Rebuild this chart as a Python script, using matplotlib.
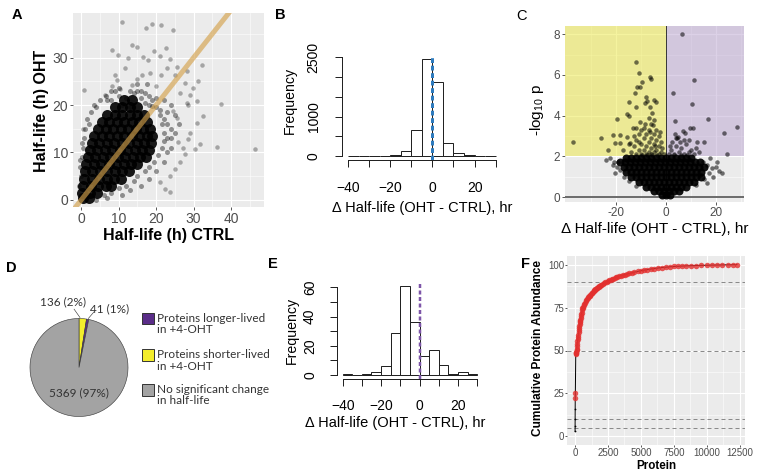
import numpy as np
import matplotlib
matplotlib.use('Agg')
import matplotlib.pyplot as plt
from matplotlib.patches import Rectangle
from matplotlib.lines import Line2D

# ---------------- data ----------------
# Panel A: half-life CTRL (x) vs OHT (y); dense core, fringe and outliers
a_core = [(0.5, 0.5), (2.0, 0.5),
          (0.3, 1.5), (2.3, 1.5), (4.3, 1.5),
          (0.5, 3.0), (2.5, 3.0), (4.5, 3.0), (6.5, 3.0), (8.0, 3.0),
          (0.8, 4.5), (2.8, 4.5), (4.8, 4.5), (6.8, 4.5), (8.8, 4.5), (10.5, 4.5),
          (1.0, 6.0), (3.0, 6.0), (5.0, 6.0), (7.0, 6.0), (9.0, 6.0), (11.0, 6.0), (12.8, 6.0),
          (1.3, 7.5), (3.3, 7.5), (5.3, 7.5), (7.3, 7.5), (9.3, 7.5), (11.3, 7.5), (13.3, 7.5), (15.0, 7.5),
          (1.8, 9.0), (3.8, 9.0), (5.8, 9.0), (7.8, 9.0), (9.8, 9.0), (11.8, 9.0), (13.8, 9.0), (15.8, 9.0), (17.3, 9.0),
          (2.3, 10.5), (4.3, 10.5), (6.3, 10.5), (8.3, 10.5), (10.3, 10.5), (12.3, 10.5), (14.3, 10.5), (16.3, 10.5), (18.0, 10.5),
          (2.8, 12.0), (4.8, 12.0), (6.8, 12.0), (8.8, 12.0), (10.8, 12.0), (12.8, 12.0), (14.8, 12.0), (16.8, 12.0), (18.5, 12.0),
          (3.5, 13.5), (5.5, 13.5), (7.5, 13.5), (9.5, 13.5), (11.5, 13.5), (13.5, 13.5), (15.5, 13.5), (17.5, 13.5), (19.0, 13.5),
          (4.5, 15.0), (6.5, 15.0), (8.5, 15.0), (10.5, 15.0), (12.5, 15.0), (14.5, 15.0), (16.5, 15.0), (18.3, 15.0),
          (5.5, 16.5), (7.5, 16.5), (9.5, 16.5), (11.5, 16.5), (13.5, 16.5), (15.5, 16.5), (17.5, 16.5),
          (7.0, 18.0), (9.0, 18.0), (11.0, 18.0), (13.0, 18.0), (15.0, 18.0), (16.8, 18.0),
          (9.0, 19.5), (11.0, 19.5), (13.0, 19.5), (15.0, 19.5),
          (11.5, 21.0), (13.5, 21.0)]
a_fringe = [(0, 1), (-0.5, 3), (0, 5), (-0.3, 7), (0.2, 9), (0.5, 11), (0.8, 13), (1, 15), (1.5, 17),
            (2.5, 18.5), (3.5, 20), (5, 21), (6.5, 22), (8, 23), (10, 23.5), (13, 23), (4, 19.5), (2, 16),
            (0.3, 12), (-0.2, 8.5), (4, 0), (6, 1), (8, 1.5), (10, 2.5), (12, 3), (14, 4), (15, 5), (17, 6),
            (18, 7), (19.5, 8), (20.5, 9.5), (21.5, 11), (22, 12.5), (22, 14), (21.5, 16), (21, 18), (20, 19.5),
            (19, 21), (17, 22.5), (15, 23), (23, 10), (22, 8), (24, 13), (20, 6), (18, 4.5), (13, 2), (16, 3),
            (11, 1), (7, 0.5), (23, 16), (24, 11), (25, 14), (22, 17), (18, 20), (16, 21.5),
            (8, 21), (10, 22), (12, 21.5), (14, 22.5), (16, 23), (18, 22), (20, 21.5), (22, 21), (24, 20),
            (11, 20), (13, 19.5), (17, 20.5), (19, 19.8), (21, 19), (23, 18.5), (25, 18), (26, 16), (24, 15),
            (23, 13), (9, 23), (7, 21), (15, 24.5), (17.5, 24.5)]
a_out = [(10.8, 37.6), (17.3, 36.2), (18.9, 37.0), (21.2, 36.8), (24.4, 35.8), (13.5, 32.7), (14.8, 32.2),
         (8.2, 31.5), (9.8, 30.6), (12.4, 30.0), (16.4, 30.1), (17.9, 29.4), (19.5, 31.4), (22.6, 32.1),
         (20.9, 30.3), (23.7, 29.6), (25.5, 28.0), (32.2, 28.5), (28.2, 27.1), (25.1, 26.4), (22.8, 27.8),
         (11.7, 27.8), (9.1, 26.3), (9.5, 25.2), (14.8, 25.4), (16.2, 26.4), (18.4, 26.8), (20.0, 24.0),
         (21.2, 26.4), (31.3, 25.0), (27.7, 24.7), (26.4, 22.6), (29.1, 22.2), (29.9, 23.6), (0.8, 23.1),
         (37.3, 20.3), (30.8, 20.8), (28.6, 20.1), (6.4, 22.2), (8.2, 24.0), (10.4, 23.3), (13.5, 24.3),
         (24.6, 18.7), (29.1, 14.2), (36.2, 11.2), (46.4, 10.7), (32.6, 17.7), (30.8, 16.3), (31.7, 11.7),
         (30.4, 10.7), (27.7, 9.6), (26.4, 7.9), (25.1, 6.5), (23.7, 1.6), (22.4, 2.2), (0.6, 15.0),
         (1.5, 10.7), (28.6, 12.8), (25.9, 12.1), (27.1, 11.0), (28.2, 20.5), (25.5, 17.3), (23.7, 5.1),
         (21.1, 3.7)]

# Panel B / E: histogram counts (bins of 5 h from -40 to 30)
hist_breaks = [-40, -35, -30, -25, -20, -15, -10, -5, 0, 5, 10, 15, 20, 25, 30]
b_counts = [2, 1, 3, 8, 28, 135, 660, 2462, 1878, 338, 68, 20, 8, 3]
e_counts = [1, 0, 1, 2, 6, 29, 61, 36, 13, 17, 7, 1, 2, 1]

# Panel C: volcano (delta half-life, -log10 p)
c_core = [(-1.5, 0.1), (0, 0.1), (1.5, 0.1),
          (-5, 0.3), (-3, 0.3), (-1, 0.3), (1, 0.3), (3, 0.3), (5, 0.3),
          (-8, 0.5), (-6, 0.5), (-4, 0.5), (-2, 0.5), (0, 0.5), (2, 0.5), (4, 0.5), (6, 0.5), (8, 0.5),
          (-11, 0.75), (-9, 0.75), (-7, 0.75), (-5, 0.75), (-3, 0.75), (-1, 0.75), (1, 0.75), (3, 0.75),
          (5, 0.75), (7, 0.75), (9, 0.75), (11, 0.75),
          (-14, 1.0), (-12, 1.0), (-10, 1.0), (-8, 1.0), (-6, 1.0), (-4, 1.0), (-2, 1.0), (0, 1.0), (2, 1.0),
          (4, 1.0), (6, 1.0), (8, 1.0), (10, 1.0), (12, 1.0), (14, 1.0),
          (-16, 1.25), (-14, 1.25), (-12, 1.25), (-10, 1.25), (-8, 1.25), (-6, 1.25), (-4, 1.25), (-2, 1.25),
          (0, 1.25), (2, 1.25), (4, 1.25), (6, 1.25), (8, 1.25), (10, 1.25), (12, 1.25), (14, 1.25),
          (-17, 1.5), (-15, 1.5), (-13, 1.5), (-11, 1.5), (-9, 1.5), (-7, 1.5), (-5, 1.5), (-3, 1.5), (-1, 1.5),
          (1, 1.5), (3, 1.5), (5, 1.5), (7, 1.5), (9, 1.5), (11, 1.5), (13, 1.5), (15, 1.5),
          (-18.5, 1.75), (-16.5, 1.75), (-14.5, 1.75), (-12.5, 1.75), (-10.5, 1.75), (-8.5, 1.75), (-6.5, 1.75),
          (-4.5, 1.75), (-2.5, 1.75), (-0.5, 1.75), (1.5, 1.75), (3.5, 1.75), (5.5, 1.75), (7.5, 1.75),
          (9.5, 1.75), (11.5, 1.75), (13.5, 1.75),
          (-16, 1.93), (-14, 1.93), (-12, 1.93), (-10, 1.93), (-8, 1.93), (-6, 1.93), (-4, 1.93), (-2, 1.93),
          (0, 1.93), (2, 1.93), (4, 1.93), (6, 1.93), (8, 1.93), (10, 1.93)]
c_edge = [(-21.3, 1.58), (-20.4, 1.18), (-18.4, 1.34), (-20.8, 1.75), (-19.1, 1.75), (16.3, 1.58),
          (18.3, 1.42), (19.9, 1.5), (22.3, 1.2), (18.9, 1.0), (16.3, 0.69), (14.9, 1.75), (13.6, 1.1),
          (-22.5, 1.9), (-17, 1.0), (-15, 0.8), (-12, 0.55), (12, 0.6), (15, 0.9), (17, 1.2), (20.5, 1.75),
          (-24, 1.85), (21, 1.3), (17.5, 1.9), (-19.5, 1.5)]
c_short = [(-37.1, 2.73), (-26.0, 2.89), (-23.1, 2.32), (-21.1, 3.05), (-19.5, 3.84), (-20.4, 2.65),
           (-18.4, 2.65), (-18.4, 3.05), (-15.5, 4.08), (-14.7, 3.99), (-12.4, 5.1), (-14.7, 4.69),
           (-12.0, 4.41), (-11.7, 5.39), (-12.1, 6.65), (-10.9, 6.08), (-9.7, 5.67), (-10.4, 5.42),
           (-8.0, 4.9), (-7.5, 4.72), (-8.4, 4.6), (-6.4, 5.91), (-6.0, 5.78), (-4.8, 4.77), (-4.0, 4.69),
           (-6.4, 4.44), (-5.7, 4.12), (-5.1, 3.54), (-13.3, 3.38), (-15.5, 2.97), (-14.4, 2.65), (-17.1, 2.32),
           (-14, 2.2), (-13, 2.5), (-12, 2.1), (-12, 2.8), (-11, 2.3), (-11, 3.1), (-10, 2.6), (-10, 2.1),
           (-9, 2.9), (-9, 2.3), (-9, 3.4), (-8, 2.5), (-8, 2.1), (-8, 3.1), (-7, 2.7), (-7, 2.2), (-7, 3.3),
           (-6, 2.4), (-6, 2.9), (-6, 2.1), (-6, 3.6), (-5, 2.6), (-5, 2.2), (-5, 3.1), (-4, 2.3), (-4, 2.8),
           (-4, 3.3), (-3, 2.1), (-3, 2.5), (-3, 3.0), (-2, 2.2), (-2, 2.7), (-1.5, 2.4), (-1, 2.1), (-13, 3.0),
           (-10, 3.3), (-12, 3.4), (-11, 2.7), (-9.5, 2.05), (-7.5, 2.05), (-5.5, 2.05), (-3.5, 2.05),
           (-2.5, 3.2), (-8.5, 3.6), (-7, 3.9), (-5, 3.8), (-6.5, 3.2), (-4.5, 2.5), (-10.5, 3.7), (-15, 2.6)]
c_long = [(6.5, 8.0), (11.2, 5.75), (2.9, 5.13), (10.5, 4.56), (16.9, 3.84), (3.6, 3.74), (6.7, 3.27),
          (7.6, 3.14), (9.6, 3.41), (10.9, 3.41), (28.3, 3.46), (23.3, 3.17), (24.5, 2.12), (15.2, 2.73),
          (13.3, 2.24), (4.5, 2.89), (1, 2.1), (2, 2.3), (3, 2.1), (4, 2.5), (5, 2.2), (6, 2.4), (7, 2.1),
          (8, 2.6), (9, 2.2), (10, 2.3), (2.5, 2.7), (4, 2.9), (5.5, 2.7), (7, 2.8), (1.5, 2.5), (3, 2.05),
          (11, 2.1), (12, 2.4), (6, 2.05), (8.5, 2.05), (3.5, 3.1), (9, 2.8), (12.5, 2.7), (4.6, 2.95)]

# Panel D: pie
pie_counts = [136, 41, 5369]
pie_labels = ['136 (2%)', '41 (1%)', '5369 (97%)']
legend_lines = [['Proteins longer-lived', 'in +4-OHT'],
                ['Proteins shorter-lived', 'in +4-OHT'],
                ['No significant change', 'in half-life']]

# Panel F: cumulative protein abundance
f_x = [0, 2, 4, 8, 12, 20, 50, 65, 80, 100, 115, 130, 145, 160, 180, 200, 220, 240, 260, 280, 300, 320,
       340, 360, 380, 400, 425, 450, 475, 500, 530, 560, 590, 620, 660, 700, 750, 800, 850, 900, 950, 1000,
       1050, 1100, 1150, 1200, 1250, 1300, 1350, 1400, 1450, 1500, 1550, 1600, 1650, 1700, 1750, 1800,
       1850, 1900, 1950, 2000, 2100, 2200, 2300, 2400, 2500, 2600, 2700, 2800, 2900, 3000, 3100, 3200,
       3350, 3500, 3650, 3800, 3950, 4100, 4300, 4500, 4750, 5000, 5250, 5500, 5750, 6000, 6300, 6600,
       6900, 7200, 7500, 7800, 8100, 8400, 8800, 9200, 9600, 10000, 10400, 10800, 11200, 11600, 12000,
       12300]
f_y = [3, 6, 10, 16, 22.5, 25.5, 48, 48.3, 48.6, 49.3, 50.2, 51, 52.5, 54, 55.3, 56.5, 57.8, 59, 60.5, 62,
       63.3, 64.5, 65.5, 66.5, 67.3, 68, 69, 70, 71, 72, 73.3, 74.5, 75, 75.5, 76.2, 77, 77.9, 78.7, 79.4,
       80, 80.5, 81, 81.5, 82, 82.4, 82.8, 83.3, 83.7, 84.2, 84.6, 85, 85.3, 85.6, 85.9, 86.2, 86.5,
       86.8, 87, 87.3, 87.6, 87.9, 88.1, 88.6, 89.1, 89.6, 90, 90.4, 90.8, 91.2, 91.5, 91.9, 92.2, 92.5,
       92.8, 93.2, 93.6, 93.9, 94.2, 94.5, 94.9, 95.2, 95.6, 96, 96.4, 96.8, 97.1, 97.4, 97.7, 98,
       98.3, 98.5, 98.7, 98.9, 99, 99.15, 99.25, 99.35, 99.45, 99.55, 99.6, 99.7, 99.75, 99.8, 99.85,
       99.9, 100]
f_hlines = [90, 50, 10, 5]

# ---------------- figure ----------------
W, H = 766, 474
PX = 0.72  # points per pixel at dpi 100
plt.rcParams['font.family'] = ['Liberation Sans', 'DejaVu Sans']
plt.rcParams['mathtext.fontset'] = 'custom'
plt.rcParams['mathtext.rm'] = 'Liberation Sans'
plt.rcParams['mathtext.it'] = 'Liberation Sans'
fig = plt.figure(figsize=(W / 100, H / 100), dpi=100)


def box(l, t, r, b):
    return [l / W, 1 - b / H, (r - l) / W, (b - t) / H]


def ftext(px, py, s, **kw):
    fig.text(px / W, 1 - py / H, s, **kw)


def gg(ax, xmaj, xmin, ymaj, ymin, fs, xl=None, yl=None, pad=1.5, tl=3):
    ax.set_facecolor('#ebebeb')
    for s in ax.spines.values():
        s.set_visible(False)
    ax.set_xticks(xmaj)
    ax.set_xticks(xmin, minor=True)
    ax.set_yticks(ymaj)
    ax.set_yticks(ymin, minor=True)
    if xl is not None:
        ax.set_xticklabels(xl)
    if yl is not None:
        ax.set_yticklabels(yl)
    ax.grid(which='major', color='white', lw=1.1 * PX)
    ax.grid(which='minor', color='white', lw=0.55 * PX)
    ax.set_axisbelow(True)
    ax.tick_params(which='major', length=tl * PX, width=0.8 * PX, color='#333333',
                   labelcolor='#4d4d4d', labelsize=fs, pad=pad)
    ax.tick_params(which='minor', length=0)


def xy(pairs):
    arr = np.array(pairs, dtype=float)
    return arr[:, 0], arr[:, 1]


# ---- A ----
axA = fig.add_axes(box(73, 13, 264, 207))
gg(axA, [0, 10, 20, 30, 40], [5, 15, 25, 35, 45], [0, 10, 20, 30], [5, 15, 25, 35], 10)
axA.set_xlim(-2.2, 48.8)
axA.set_ylim(-1.5, 39.4)
x, y = xy(a_fringe)
axA.scatter(x, y, s=(5 * PX) ** 2, color='black', alpha=0.4, lw=0, zorder=2)
x, y = xy(a_core)
axA.scatter(x, y, s=(11 * PX) ** 2, color='black', alpha=0.9, lw=0, zorder=2)
x, y = xy(a_out)
axA.scatter(x, y, s=(4.5 * PX) ** 2, color='black', alpha=0.3, lw=0, zorder=2)
axA.plot([-5, 50], [-5, 50], color='#d4a24c', alpha=0.65, lw=5 * PX, solid_capstyle='butt', zorder=3)
ftext(168.5, 235, 'Half-life (h) CTRL', ha='center', va='center', fontsize=11.5, fontweight='bold')
ftext(41.5, 111, 'Half-life (h) OHT', ha='center', va='center', fontsize=11.5, fontweight='bold',
      rotation=90)


# ---- B & E (base R style histograms) ----
def rhist(ax, counts, ylim, ybounds, yt, ytl, pad):
    ax.bar(hist_breaks[:-1], counts, width=5, align='edge', fill=False, edgecolor='#222222',
           lw=1 * PX, zorder=2)
    ax.set_xlim(-42.8, 32.8)
    ax.set_ylim(*ylim)
    ax.patch.set_visible(False)
    for s in ['top', 'right']:
        ax.spines[s].set_visible(False)
    ax.spines['left'].set_bounds(*ybounds)
    ax.spines['bottom'].set_bounds(-40, 30)
    for s in ['left', 'bottom']:
        ax.spines[s].set_linewidth(1 * PX)
        ax.spines[s].set_color('#222222')
    ax.set_xticks([-40, -30, -20, -10, 0, 10, 20, 30])
    ax.set_xticklabels(['\u221240', '', '\u221220', '', '0', '', '20', ''])
    ax.set_yticks(yt)
    ax.set_yticklabels(ytl, rotation=90, va='center')
    ax.tick_params(length=7 * PX, width=1 * PX, color='#222222', labelsize=10, pad=pad)


axB = fig.add_axes(box(342.1, 55.1, 501.6, 159.9))
rhist(axB, b_counts, (-98.5, 2560.5), (0, 2500), [0, 500, 1000, 1500, 2000, 2500],
      ['0', '', '1000', '', '', '2500'], 10.5)
axB.axvline(0, color='#2f7cbf', lw=3 * PX, ls=(0, (1.6, 0.9)), zorder=3)
ftext(290, 100, 'Frequency', ha='center', va='center', fontsize=10.2, rotation=90)
ftext(422, 208, '\u0394 Half-life (OHT - CTRL), hr', ha='center', va='center', fontsize=10.5)

axE = fig.add_axes(box(337.3, 282.4, 482.5, 378.6))
rhist(axE, e_counts, (-2.44, 63.44), (0, 60), [0, 10, 20, 30, 40, 50, 60],
      ['0', '', '20', '', '40', '', '60'], 9.5)
axE.axvline(0, color='#7d55a8', lw=2.5 * PX, ls=(0, (1.6, 1.0)), zorder=3)
ftext(291.5, 330.5, 'Frequency', ha='center', va='center', fontsize=10.2, rotation=90)
ftext(395.5, 423.5, '\u0394 Half-life (OHT - CTRL), hr', ha='center', va='center', fontsize=10.5)

# ---- C ----
axC = fig.add_axes(box(565, 26, 744, 201.7))
gg(axC, [-20, 0, 20], [-30, -10, 10, 30], [0, 2, 4, 6, 8], [1, 3, 5, 7], 8.5,
   xl=['-20', '0', '20'])
cxl, cyl = (-40.5, 31.2), (-0.22, 8.4)
axC.set_xlim(*cxl)
axC.set_ylim(*cyl)
axC.add_patch(Rectangle((cxl[0], 2), -cxl[0], cyl[1] - 2, color='#ede941', alpha=0.5, lw=0, zorder=1))
axC.add_patch(Rectangle((0, 2), cxl[1], cyl[1] - 2, color='#bba5d1', alpha=0.5, lw=0, zorder=1))
axC.axhline(2, color='white', lw=1 * PX, ls=(0, (3, 2)), zorder=1.5)
axC.axhline(0, color='#6e6e6e', lw=2 * PX, zorder=1.6)
axC.plot([0, 0], [0, cyl[1]], color='#3a3a3a', lw=1 * PX, zorder=1.6)
for pairs in (c_edge, c_short, c_long):
    x, y = xy(pairs)
    axC.scatter(x, y, s=(4.5 * PX) ** 2, color='black', alpha=0.55, lw=0, zorder=2)
x, y = xy(c_core)
axC.scatter(x, y, s=(8 * PX) ** 2, color='black', alpha=0.92, lw=0, zorder=2)
ftext(537, 110, r'-log$_{10}$ p', ha='center', va='center', fontsize=11, rotation=90)
ftext(655, 229, '\u0394 Half-life (OHT - CTRL), hr', ha='center', va='center', fontsize=11)

# ---- D ----
axD = fig.add_axes(box(30, 318.5, 128, 416.5))
axD.pie(pie_counts, colors=['#f3ed2c', '#5a2d88', '#a3a3a3'], startangle=90, counterclock=False,
        radius=1, wedgeprops=dict(edgecolor='#3a3a3a', linewidth=0.6 * PX))
axD.set_xlim(-1, 1)
axD.set_ylim(-1, 1)
axD.axis('off')
pfont = dict(family=['Lato', 'DejaVu Sans'], fontsize=8.5, color='#333333')
axD.text(-0.33, 1.34, pie_labels[0], ha='center', va='center', **pfont)
axD.text(0.63, 1.19, pie_labels[1], ha='center', va='center', **pfont)
axD.text(0.0, -0.52, pie_labels[2], ha='center', va='center', **pfont)
axD.add_line(Line2D([-0.10, 0.02], [1.19, 1.02], color='#333333', lw=0.6 * PX, clip_on=False))
axD.add_line(Line2D([0.31, 0.19], [1.14, 1.0], color='#333333', lw=0.6 * PX, clip_on=False))

sq_cols = ['#5a2d88', '#f3ed2c', '#a3a3a3']
sq_tops = [312.7, 349.3, 384.0]
for col, top, lines in zip(sq_cols, sq_tops, legend_lines):
    fig.add_artist(Rectangle((142 / W, 1 - (top + 11.7) / H), 12 / W, 11.7 / H, facecolor=col,
                             edgecolor='#333333', lw=0.7, transform=fig.transFigure))
    ftext(157, top + 5.6, lines[0], ha='left', va='center', **pfont)
    ftext(157, top + 16.8, lines[1], ha='left', va='center', **pfont)

# ---- F ----
axF = fig.add_axes(box(567, 256, 745, 445))
gg(axF, [0, 2500, 5000, 7500, 10000, 12500], [1250, 3750, 6250, 8750, 11250],
   [0, 25, 50, 75, 100], [12.5, 37.5, 62.5, 87.5], 7.0, pad=0.4, tl=2)
axF.set_xlim(-615, 12915)
axF.set_ylim(-5, 105)
for h in f_hlines:
    axF.axhline(h, color='#8a8a8a', lw=1 * PX, ls=(0, (4, 3)), zorder=1.5)
axF.plot(f_x, f_y, color='black', lw=1 * PX, zorder=2)
fx_arr, fy_arr = np.array(f_x), np.array(f_y)
big = fy_arr >= 20
axF.scatter(fx_arr[big], fy_arr[big], s=(5.5 * PX) ** 2, color='#e3302f', alpha=0.8, lw=0, zorder=3)
axF.scatter(fx_arr[~big], fy_arr[~big], s=(1.8 * PX) ** 2, color='black', lw=0, zorder=3)
ftext(538, 348, 'Cumulative Protein Abundance', ha='center', va='center', fontsize=8.6,
      fontweight='bold', rotation=90)
ftext(656, 466, 'Protein', ha='center', va='center', fontsize=8.4, fontweight='bold')

# ---- panel letters ----
for lab, px, py in [('A', 16.7, 15), ('B', 280.7, 15), ('C', 521.7, 16), ('D', 11.7, 268),
                    ('E', 273, 263.5), ('F', 525, 264)]:
    ftext(px, py, lab, ha='center', va='center', fontsize=10.5,
          fontweight='normal' if lab == 'C' else 'bold')

fig.savefig('out.png', dpi=100)
